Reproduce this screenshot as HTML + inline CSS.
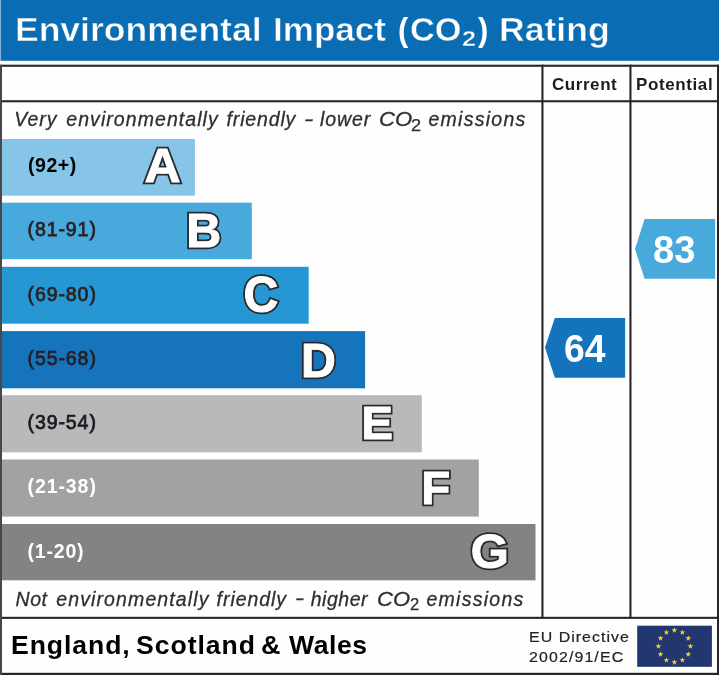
<!DOCTYPE html>
<html><head><meta charset="utf-8">
<title>Environmental Impact (CO2) Rating</title>
<style>
html,body{margin:0;padding:0;background:#fefefe;}
body{width:719px;height:675px;position:relative;overflow:hidden;font-family:"Liberation Sans",Arial,Helvetica,sans-serif;}
.t{position:absolute;white-space:nowrap;display:block;transform-origin:0 0;}
svg{position:absolute;left:0;top:0;}
svg text{font-family:"Liberation Sans",Arial,Helvetica,sans-serif;font-weight:bold;}
.lo{fill:#2a2a2e;stroke:#2a2a2e;stroke-width:4.3;}
.li{fill:#fff;stroke:#fff;stroke-width:0.90;}
</style></head><body>
<svg width="719" height="675" viewBox="0 0 719 675">
<rect x="0.5" y="0" width="718.5" height="60.8" fill="#0a6db3"/>
<!-- rating bars -->
<rect x="2" y="139.0" width="192.9" height="56.7" fill="#87c5e8"/>
<rect x="2" y="202.7" width="249.8" height="56.5" fill="#47a9dc"/>
<rect x="2" y="266.8" width="306.7" height="56.9" fill="#2697d2"/>
<rect x="2" y="331.1" width="363.1" height="57.2" fill="#1674bd"/>
<rect x="2" y="395.2" width="419.8" height="57.1" fill="#b9b9b9"/>
<rect x="2" y="459.5" width="476.8" height="57.1" fill="#a2a2a2"/>
<rect x="2" y="524.0" width="533.5" height="56.3" fill="#838383"/>
<!-- frame -->
<g fill="#26262a">
<rect x="0" y="64.7" width="719" height="2.1"/>
<rect x="0" y="100.2" width="719" height="2.1"/>
<rect x="0" y="616.8" width="719" height="2.1"/>
<rect x="0" y="672.8" width="719" height="2.2"/>
<rect x="0" y="64.7" width="2" height="610.3" fill="#48484a"/>
<rect x="717" y="64.7" width="2" height="610.3"/>
<rect x="541.4" y="64.7" width="2.1" height="553"/>
<rect x="629.4" y="64.7" width="2.1" height="553"/>
</g>
<!-- arrows -->
<polygon points="545,347.6 554.8,318.1 625.1,318.1 625.1,377.7 554.8,377.7" fill="#1373bb"/>
<polygon points="635,249 644.6,219 715.1,219 715.1,278.8 644.6,278.8" fill="#47a9dc"/>
<!-- band letters -->
<g font-size="45.25" stroke-linejoin="miter" stroke-miterlimit="2">
<g transform="matrix(1.1056 0 0 1.0486 33.96 77.05)"><text class="lo" x="100" y="100">A</text><text class="li" x="100" y="100">A</text></g>
<g transform="matrix(1.0719 0 0 1.0657 79.14 140.20)"><text class="lo" x="100" y="100">B</text><text class="li" x="100" y="100">B</text></g>
<g transform="matrix(1.0647 0 0 1.0943 136.93 202.48)"><text class="lo" x="100" y="100">C</text><text class="li" x="100" y="100">C</text></g>
<g transform="matrix(1.0687 0 0 1.0600 194.06 270.58)"><text class="lo" x="100" y="100">D</text><text class="li" x="100" y="100">D</text></g>
<g transform="matrix(1.0533 0 0 1.0371 255.81 335.21)"><text class="lo" x="100" y="100">E</text><text class="li" x="100" y="100">E</text></g>
<g transform="matrix(1.0519 0 0 1.0286 316.16 400.99)"><text class="lo" x="100" y="100">F</text><text class="li" x="100" y="100">F</text></g>
<g transform="matrix(1.0829 0 0 1.0829 362.51 459.95)"><text class="lo" x="100" y="100">G</text><text class="li" x="100" y="100">G</text></g>
</g>
<!-- EU flag -->
<g transform="translate(637.2 625.7)">
<rect width="74.7" height="41.1" fill="#22366f"/>
<g fill="#f5d42a">
<polygon points="37.20,1.60 37.91,3.63 40.05,3.67 38.34,4.97 38.96,7.03 37.20,5.80 35.44,7.03 36.06,4.97 34.35,3.67 36.49,3.63"/>
<polygon points="45.20,3.74 45.91,5.77 48.05,5.82 46.34,7.11 46.96,9.17 45.20,7.94 43.44,9.17 44.06,7.11 42.35,5.82 44.49,5.77"/>
<polygon points="51.06,9.60 51.76,11.63 53.91,11.67 52.20,12.97 52.82,15.03 51.06,13.80 49.29,15.03 49.92,12.97 48.20,11.67 50.35,11.63"/>
<polygon points="53.20,17.60 53.91,19.63 56.05,19.67 54.34,20.97 54.96,23.03 53.20,21.80 51.44,23.03 52.06,20.97 50.35,19.67 52.49,19.63"/>
<polygon points="51.06,25.60 51.76,27.63 53.91,27.67 52.20,28.97 52.82,31.03 51.06,29.80 49.29,31.03 49.92,28.97 48.20,27.67 50.35,27.63"/>
<polygon points="45.20,31.46 45.91,33.49 48.05,33.53 46.34,34.83 46.96,36.88 45.20,35.66 43.44,36.88 44.06,34.83 42.35,33.53 44.49,33.49"/>
<polygon points="37.20,33.60 37.91,35.63 40.05,35.67 38.34,36.97 38.96,39.03 37.20,37.80 35.44,39.03 36.06,36.97 34.35,35.67 36.49,35.63"/>
<polygon points="29.20,31.46 29.91,33.49 32.05,33.53 30.34,34.83 30.96,36.88 29.20,35.66 27.44,36.88 28.06,34.83 26.35,33.53 28.49,33.49"/>
<polygon points="23.34,25.60 24.05,27.63 26.20,27.67 24.48,28.97 25.11,31.03 23.34,29.80 21.58,31.03 22.20,28.97 20.49,27.67 22.64,27.63"/>
<polygon points="21.20,17.60 21.91,19.63 24.05,19.67 22.34,20.97 22.96,23.03 21.20,21.80 19.44,23.03 20.06,20.97 18.35,19.67 20.49,19.63"/>
<polygon points="23.34,9.60 24.05,11.63 26.20,11.67 24.48,12.97 25.11,15.03 23.34,13.80 21.58,15.03 22.20,12.97 20.49,11.67 22.64,11.63"/>
<polygon points="29.20,3.74 29.91,5.77 32.05,5.82 30.34,7.11 30.96,9.17 29.20,7.94 27.44,9.17 28.06,7.11 26.35,5.82 28.49,5.77"/>
</g>
</g>
</svg>
<span class="t" style="left:14.9px;top:13px;font-size:33.4px;line-height:33.4px;color:#fff;font-weight:bold;-webkit-text-stroke:0.5px #0a6db3;transform:scaleX(1.063);">Environmental</span>
<span class="t" style="left:272.9px;top:13px;font-size:33.4px;line-height:33.4px;color:#fff;font-weight:bold;-webkit-text-stroke:0.5px #0a6db3;transform:scaleX(1.050);">Impact</span>
<span class="t" style="left:397.8px;top:13px;font-size:33.4px;line-height:33.4px;color:#fff;font-weight:bold;transform:scaleX(0.922);">(</span>
<span class="t" style="left:410.0px;top:13px;font-size:33.4px;line-height:33.4px;color:#fff;font-weight:bold;-webkit-text-stroke:0.5px #0a6db3;transform:scaleX(1.029);">CO</span>
<span class="t" style="left:461.8px;top:28px;font-size:22.3px;line-height:22.3px;color:#fff;font-weight:bold;-webkit-text-stroke:0.5px #0a6db3;transform:scaleX(1.136);">2</span>
<span class="t" style="left:478.1px;top:13px;font-size:33.4px;line-height:33.4px;color:#fff;font-weight:bold;transform:scaleX(0.922);">)</span>
<span class="t" style="left:499.1px;top:13px;font-size:33.4px;line-height:33.4px;color:#fff;font-weight:bold;-webkit-text-stroke:0.5px #0a6db3;transform:scaleX(1.066);">Rating</span>
<span class="t" style="left:551.9px;top:76px;font-size:17px;line-height:17px;color:#1c1c20;font-weight:bold;letter-spacing:0.58px;">Current</span>
<span class="t" style="left:636.1px;top:76px;font-size:17px;line-height:17px;color:#1c1c20;font-weight:bold;letter-spacing:0.59px;">Potential</span>
<span class="t" style="left:14.3px;top:110px;font-size:19.5px;line-height:19.5px;color:#2e2e33;font-style:italic;-webkit-text-stroke:0.3px #2e2e33;letter-spacing:0.93px;">Very</span>
<span class="t" style="left:66.3px;top:110px;font-size:19.5px;line-height:19.5px;color:#2e2e33;font-style:italic;-webkit-text-stroke:0.3px #2e2e33;letter-spacing:1.06px;">environmentally</span>
<span class="t" style="left:226.6px;top:110px;font-size:19.5px;line-height:19.5px;color:#2e2e33;font-style:italic;-webkit-text-stroke:0.3px #2e2e33;letter-spacing:0.84px;">friendly</span>
<span class="t" style="left:304.2px;top:109px;font-size:20px;line-height:20px;color:#2e2e33;font-style:italic;-webkit-text-stroke:0.3px #2e2e33;transform:scaleX(1.400);">-</span>
<span class="t" style="left:320.0px;top:110px;font-size:19.5px;line-height:19.5px;color:#2e2e33;font-style:italic;-webkit-text-stroke:0.3px #2e2e33;letter-spacing:0.90px;">lower</span>
<span class="t" style="left:378.9px;top:110px;font-size:19.5px;line-height:19.5px;color:#2e2e33;font-style:italic;-webkit-text-stroke:0.3px #2e2e33;transform:scaleX(1.132);">CO</span>
<span class="t" style="left:411.1px;top:117px;font-size:17.3px;line-height:17.3px;color:#2e2e33;-webkit-text-stroke:0.25px #2e2e33;transform:scaleX(1.050);">2</span>
<span class="t" style="left:428.5px;top:110px;font-size:19.5px;line-height:19.5px;color:#2e2e33;font-style:italic;-webkit-text-stroke:0.3px #2e2e33;letter-spacing:1.26px;">emissions</span>
<span class="t" style="left:15.5px;top:590px;font-size:19.5px;line-height:19.5px;color:#2e2e33;font-style:italic;-webkit-text-stroke:0.3px #2e2e33;letter-spacing:0.55px;">Not</span>
<span class="t" style="left:56.3px;top:590px;font-size:19.5px;line-height:19.5px;color:#2e2e33;font-style:italic;-webkit-text-stroke:0.3px #2e2e33;letter-spacing:1.11px;">environmentally</span>
<span class="t" style="left:216.6px;top:590px;font-size:19.5px;line-height:19.5px;color:#2e2e33;font-style:italic;-webkit-text-stroke:0.3px #2e2e33;letter-spacing:0.94px;">friendly</span>
<span class="t" style="left:295.0px;top:588px;font-size:20px;line-height:20px;color:#2e2e33;font-style:italic;-webkit-text-stroke:0.3px #2e2e33;transform:scaleX(1.360);">-</span>
<span class="t" style="left:310.7px;top:590px;font-size:19.5px;line-height:19.5px;color:#2e2e33;font-style:italic;-webkit-text-stroke:0.3px #2e2e33;letter-spacing:0.52px;">higher</span>
<span class="t" style="left:377.2px;top:590px;font-size:19.5px;line-height:19.5px;color:#2e2e33;font-style:italic;-webkit-text-stroke:0.3px #2e2e33;transform:scaleX(1.129);">CO</span>
<span class="t" style="left:409.7px;top:596px;font-size:17.3px;line-height:17.3px;color:#2e2e33;-webkit-text-stroke:0.25px #2e2e33;transform:scaleX(0.962);">2</span>
<span class="t" style="left:426.4px;top:590px;font-size:19.5px;line-height:19.5px;color:#2e2e33;font-style:italic;-webkit-text-stroke:0.3px #2e2e33;letter-spacing:1.28px;">emissions</span>
<span class="t" style="left:28.0px;top:156px;font-size:19.5px;line-height:19.5px;color:#000;font-weight:bold;letter-spacing:0.52px;">(92+)</span>
<span class="t" style="left:27.5px;top:220px;font-size:19.5px;line-height:19.5px;color:#2a2228;-webkit-text-stroke:0.75px #2a2228;letter-spacing:0.92px;">(81-91)</span>
<span class="t" style="left:27.5px;top:285px;font-size:19.5px;line-height:19.5px;color:#2a2228;-webkit-text-stroke:0.75px #2a2228;letter-spacing:0.92px;">(69-80)</span>
<span class="t" style="left:27.5px;top:349px;font-size:19.5px;line-height:19.5px;color:#241f26;-webkit-text-stroke:0.75px #241f26;letter-spacing:0.92px;">(55-68)</span>
<span class="t" style="left:27.5px;top:413px;font-size:19.5px;line-height:19.5px;color:#1a1a22;-webkit-text-stroke:0.75px #1a1a22;letter-spacing:0.92px;">(39-54)</span>
<span class="t" style="left:27.5px;top:477px;font-size:19.5px;line-height:19.5px;color:#fff;font-weight:bold;letter-spacing:0.92px;">(21-38)</span>
<span class="t" style="left:27.5px;top:542px;font-size:19.5px;line-height:19.5px;color:#fff;font-weight:bold;letter-spacing:0.82px;">(1-20)</span>
<span class="t" style="left:10.6px;top:633px;font-size:25.3px;line-height:25.3px;color:#000;font-weight:bold;letter-spacing:0.89px;transform:scaleX(1.050);">England,</span>
<span class="t" style="left:135.8px;top:633px;font-size:25.3px;line-height:25.3px;color:#000;font-weight:bold;letter-spacing:0.93px;transform:scaleX(1.050);">Scotland</span>
<span class="t" style="left:260.9px;top:633px;font-size:25.3px;line-height:25.3px;color:#000;font-weight:bold;transform:scaleX(1.065);">&amp;</span>
<span class="t" style="left:289.0px;top:633px;font-size:25.3px;line-height:25.3px;color:#000;font-weight:bold;letter-spacing:0.54px;transform:scaleX(1.050);">Wales</span>
<span class="t" style="left:528.5px;top:629px;font-size:15.3px;line-height:15.3px;color:#222;-webkit-text-stroke:0.2px #222;letter-spacing:1.00px;transform:scaleX(1.040);">EU Directive</span>
<span class="t" style="left:528.5px;top:649px;font-size:15.3px;line-height:15.3px;color:#222;-webkit-text-stroke:0.2px #222;letter-spacing:1.08px;transform:scaleX(1.040);">2002/91/EC</span>
<span class="t" style="left:563.5px;top:329px;font-size:39.5px;line-height:39.5px;color:#fff;font-weight:bold;transform:scaleX(0.947);">64</span>
<span class="t" style="left:653.4px;top:230px;font-size:39.5px;line-height:39.5px;color:#fff;font-weight:bold;transform:scaleX(0.968);">83</span>
</body></html>
